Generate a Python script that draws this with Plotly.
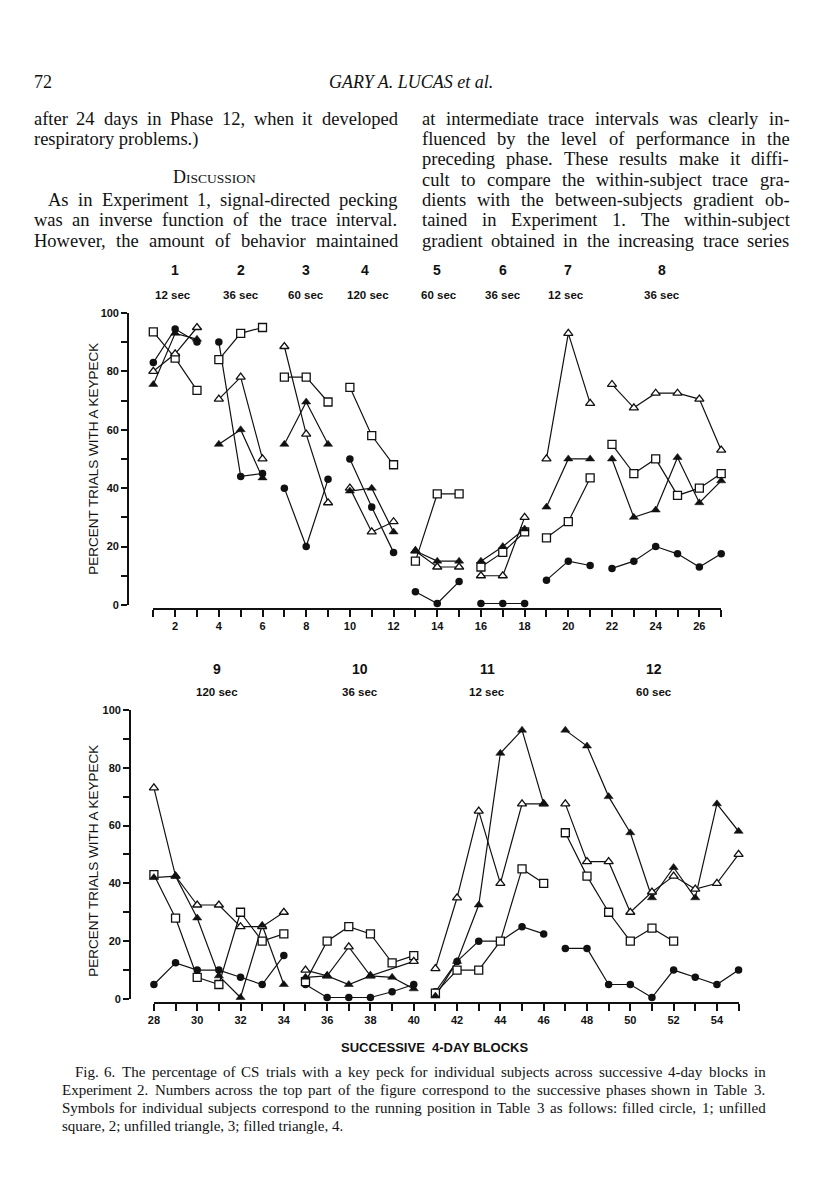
import plotly.graph_objects as go

W, H = 816, 1200

# ---------------- data ----------------
blocks_top = list(range(1, 28))
blocks_bottom = list(range(28, 56))

phases_top = [(1, 3), (4, 6), (7, 9), (10, 12), (13, 15), (16, 18), (19, 21), (22, 27)]
phases_bottom = [(28, 34), (35, 40), (41, 46), (47, 55)]

phase_numbers_top = ["1", "2", "3", "4", "5", "6", "7", "8"]
phase_intervals_top = ["12 sec", "36 sec", "60 sec", "120 sec", "60 sec", "36 sec", "12 sec", "36 sec"]
phase_numbers_bottom = ["9", "10", "11", "12"]
phase_intervals_bottom = ["120 sec", "36 sec", "12 sec", "60 sec"]

top_tick_labels = ["", "2", "", "4", "", "6", "", "8", "", "10", "", "12", "", "14", "",
                   "16", "", "18", "", "20", "", "22", "", "24", "", "26", ""]
bottom_tick_labels = ["28", "", "30", "", "32", "", "34", "", "36", "", "38", "", "40", "",
                      "42", "", "44", "", "46", "", "48", "", "50", "", "52", "", "54", ""]
y_tick_values = [0, 20, 40, 60, 80, 100]

# subject 1: filled circle, 2: unfilled square, 3: unfilled triangle, 4: filled triangle
circle_top = [83, 94.5, 90, 90, 44, 45, 40, 20, 43, 50, 33.5, 18, 4.5, 0.5, 8, 0.5, 0.5, 0.5,
              8.5, 15, 13.5, 12.5, 15, 20, 17.5, 13, 17.5]
square_top = [93.5, 84.5, 73.5, 84, 93, 95, 78, 78, 69.5, 74.5, 58, 48, 15, 38, 38, 13, 18, 25,
              23, 28.5, 43.5, 55, 45, 50, 37.5, 40, 45]
opentri_top = [80, 86, 95, 70.5, 78, 50, 88.5, 58.5, 35, 40, 25, 28.5, 18.5, 13, 13, 10, 10, 30,
               50, 93, 69, 75.5, 67.5, 72.5, 72.5, 70.5, 53]
filltri_top = [75.5, 93, 91, 55, 60, 43.5, 55, 69.5, 55, 39, 40, 25, 18.5, 15, 15, 15, 20, 26,
               33.5, 50, 50, 50, 30, 32.5, 50.5, 35, 42.5]

circle_bottom = [5, 12.5, 10, 10, 7.5, 5, 15, 5, 0.5, 0.5, 0.5, 2.5, 5, 2.5, 13, 20, 20, 25, 22.5,
                 17.5, 17.5, 5, 5, 0.5, 10, 7.5, 5, 10]
square_bottom = [43, 28, 7.5, 5, 30, 20, 22.5, 6, 20, 25, 22.5, 12.5, 15, 2, 10, 10, 20, 45, 40,
                 57.5, 42.5, 30, 20, 24.5, 20, None, None, None]
opentri_bottom = [73, 42.5, 32.5, 32.5, 25, 25, 30, 10, 8, 18, 8, None, 13, 10.5, 35, 65, 40, 67.5, 67.5,
                  67.5, 47.5, 47.5, 30, 37, 42.5, 38, 40, 50]
filltri_bottom = [42, 42.5, 28, 8, 0.5, 25.5, 5, 7.5, 8, 5, 8, 7.5, 3.5, 1, 13, 32.5, 85, 93, 67.5,
                  93, 87.5, 70, 57.5, 35, 45.5, 35, 67.5, 58]

# ---------------- styles ----------------
INK = "#111111"
SANS = "Liberation Sans"
SERIF = "Liberation Serif"

marker_styles = {
    "circle": dict(symbol="circle", size=7.5, color=INK, line=dict(width=0, color=INK)),
    "square": dict(symbol="square", size=8, color="white", line=dict(width=1.3, color=INK)),
    "opentri": dict(symbol="triangle-up", size=8, color="white", line=dict(width=1.3, color=INK)),
    "filltri": dict(symbol="triangle-up", size=8, color=INK, line=dict(width=0.5, color=INK)),
}

series_top = [("circle", circle_top), ("square", square_top), ("opentri", opentri_top), ("filltri", filltri_top)]
series_bottom = [("circle", circle_bottom), ("square", square_bottom), ("opentri", opentri_bottom),
                 ("filltri", filltri_bottom)]


def segments(blocks, vals, phases):
    xs, ys = [], []
    for a, b in phases:
        for blk, v in zip(blocks, vals):
            if a <= blk <= b and v is not None:
                xs.append(blk)
                ys.append(v)
        xs.append(None)
        ys.append(None)
    return xs, ys


fig = go.Figure()

for xa, ya, blocks, series, phases in [("x", "y", blocks_top, series_top, phases_top),
                                       ("x2", "y2", blocks_bottom, series_bottom, phases_bottom)]:
    for key, vals in series:
        xs, ys = segments(blocks, vals, phases)
        fig.add_trace(go.Scatter(x=xs, y=ys, mode="lines", xaxis=xa, yaxis=ya,
                                 line=dict(color=INK, width=1.2), showlegend=False,
                                 hoverinfo="skip", cliponaxis=False))
    for key, vals in series:
        xs, ys = segments(blocks, vals, phases)
        fig.add_trace(go.Scatter(x=xs, y=ys, mode="markers", xaxis=xa, yaxis=ya,
                                 marker=marker_styles[key], showlegend=False,
                                 hoverinfo="skip", cliponaxis=False))


def px_x(p):
    return p / W


def px_y(p):
    return 1 - p / H


tickfont = dict(family=SANS, size=11, color=INK, weight="bold")

axis_common = dict(showline=True, linecolor=INK, linewidth=1.8, ticks="outside",
                   tickcolor=INK, tickwidth=1.5, showgrid=False, zeroline=False,
                   tickfont=tickfont, anchor="free", fixedrange=True)

fig.update_layout(
    width=W, height=H,
    margin=dict(l=0, r=0, t=0, b=0),
    paper_bgcolor="white", plot_bgcolor="rgba(0,0,0,0)",
    xaxis=dict(domain=[px_x(148.4), px_x(720.5)], range=[1, 27], position=px_y(609),
               tickvals=blocks_top, ticktext=top_tick_labels, ticklen=7, **axis_common),
    yaxis=dict(domain=[px_y(605), px_y(310)], range=[0, 100], position=px_x(123),
               tickvals=y_tick_values, ticklen=6,
               minor=dict(ticks="outside", dtick=10, ticklen=6, tickcolor=INK, tickwidth=1.5),
               **axis_common),
    xaxis2=dict(domain=[px_x(149), px_x(738)], range=[28, 55], position=px_y(1007),
                tickvals=blocks_bottom, ticktext=bottom_tick_labels, ticklen=7, **axis_common),
    yaxis2=dict(domain=[px_y(1003), px_y(711)], range=[0, 100], position=px_x(125),
                tickvals=y_tick_values, ticklen=6,
                minor=dict(ticks="outside", dtick=10, ticklen=6, tickcolor=INK, tickwidth=1.5),
                **axis_common),
)

ann = []


def label(text, x, y, size, xref="paper", family=SANS, bold=False, angle=0, xanchor="center"):
    f = dict(family=family, size=size, color=INK)
    if bold:
        f["weight"] = "bold"
    ann.append(dict(text=text, x=x if xref != "paper" else px_x(x), y=px_y(y), xref=xref, yref="paper",
                    xanchor=xanchor, yanchor="middle", showarrow=False, textangle=angle,
                    font=f, borderpad=0))


# phase labels
num_x_top = [2, 5, 8, 10.7, 14, 17, 20, 24.3]
sec_x_top = [1.9, 5.0, 8.0, 10.85, 14.1, 17.0, 19.9, 24.3]
for n, s, xn, xs in zip(phase_numbers_top, phase_intervals_top, num_x_top, sec_x_top):
    label(n, xn, 267, 14, xref="x", bold=True)
    label(s, xs, 292, 11.5, xref="x", bold=True)
num_x_bot = [30.9, 37.5, 43.4, 51.1]
for n, s, xn in zip(phase_numbers_bottom, phase_intervals_bottom, num_x_bot):
    label(n, xn, 670, 14, xref="x2", bold=True)
    label(s, xn, 693, 11.5, xref="x2", bold=True)

# axis titles
for yc in (457, 863):
    label("PERCENT TRIALS WITH A KEYPECK", 88, yc, 13.5, angle=-90)
label("SUCCESSIVE  4-DAY BLOCKS", 432, 1052, 13, bold=True)

# ---------------- page text ----------------
TIMES = {' ': 250, 'a': 444, 'b': 500, 'c': 444, 'd': 500, 'e': 444, 'f': 333, 'g': 500, 'h': 500,
         'i': 278, 'j': 278, 'k': 500, 'l': 278, 'm': 778, 'n': 500, 'o': 500, 'p': 500, 'q': 500,
         'r': 333, 's': 389, 't': 278, 'u': 500, 'v': 500, 'w': 722, 'x': 500, 'y': 500, 'z': 444,
         '.': 250, ',': 250, '-': 333, ')': 333, '(': 333, ':': 278, ';': 278,
         'A': 722, 'B': 667, 'C': 667, 'D': 722, 'E': 611, 'F': 556, 'G': 722, 'H': 722, 'I': 333,
         'J': 389, 'K': 722, 'L': 611, 'M': 889, 'N': 722, 'O': 722, 'P': 556, 'Q': 722, 'R': 667,
         'S': 556, 'T': 611, 'U': 722, 'V': 722, 'W': 944, 'X': 722, 'Y': 722, 'Z': 611}


def tw(s, fs):
    return sum(TIMES.get(ch, 500) for ch in s) / 1000.0 * fs


def add_line(text, x0, x1, y, fs, justify=True):
    if not justify:
        label(text, x0, y, fs, family=SERIF, xanchor="left")
        return
    words = text.split(" ")
    widths = [tw(w, fs) for w in words]
    gap = (x1 - x0 - sum(widths)) / (len(words) - 1)
    x = x0
    for w, wd in zip(words, widths):
        label(w, x, y, fs, family=SERIF, xanchor="left")
        x += wd + gap


FS = 18.5
label("72", 27, 77, 18, family=SERIF, xanchor="left")
label("<i>GARY A. LUCAS et al.</i>", 408, 77, 18, family=SERIF)

row = [114 + 20.5 * i for i in range(7)]
add_line("after 24 days in Phase 12, when it developed", 27, 393, row[0], FS)
add_line("respiratory problems.)", 27, 0, row[1], FS, justify=False)
label("D<span style='font-size:13.5px'>ISCUSSION</span>", 210, row[3] - 3, 18, family=SERIF)
add_line("As in Experiment 1, signal-directed pecking", 41, 393, row[4], FS)
add_line("was an inverse function of the trace interval.", 27, 393, row[5], FS)
add_line("However, the amount of behavior maintained", 27, 393, row[6], FS)

right = ["at intermediate trace intervals was clearly in-",
         "fluenced by the level of performance in the",
         "preceding phase. These results make it diffi-",
         "cult to compare the within-subject trace gra-",
         "dients with the between-subjects gradient ob-",
         "tained in Experiment 1. The within-subject",
         "gradient obtained in the increasing trace series"]
for i, line in enumerate(right):
    add_line(line, 418, 788, row[i], FS)

CFS = 15
add_line("Fig. 6. The percentage of CS trials with a key peck for individual subjects across successive 4-day blocks in",
         68, 764, 1077, CFS)
add_line("Experiment 2. Numbers across the top part of the figure correspond to the successive phases shown in Table 3.",
         55, 764, 1095, CFS)
add_line("Symbols for individual subjects correspond to the running position in Table 3 as follows: filled circle, 1; unfilled",
         55, 764, 1113, CFS)
add_line("square, 2; unfilled triangle, 3; filled triangle, 4.", 55, 0, 1131, CFS, justify=False)

fig.update_layout(annotations=ann)

fig.write_html("out.html", config={"displayModeBar": False},
               post_script="document.body.style.margin='0';document.body.style.overflow='hidden';")
